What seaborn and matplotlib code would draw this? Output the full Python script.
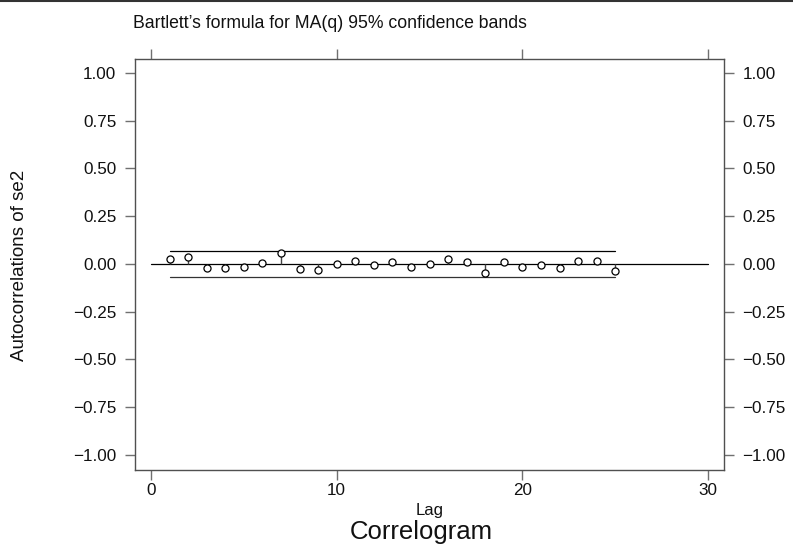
import numpy as np
import pandas as pd
import matplotlib
matplotlib.use("Agg")
import matplotlib.pyplot as plt
import seaborn as sns
from matplotlib.lines import Line2D

lags = list(range(1, 26))
acf = [0.026, 0.038, -0.021, -0.020, -0.018, 0.003, 0.055, -0.025, -0.033, 0.001,
       0.014, -0.005, 0.012, -0.014, 0.000, 0.026, 0.012, -0.049, 0.008, -0.014,
       -0.004, -0.023, 0.016, 0.014, -0.035]
band = [0.069] * 25
yticks = [1.00, 0.75, 0.50, 0.25, 0.00, -0.25, -0.50, -0.75, -1.00]
xticks = [0, 10, 20, 30]

sns.set_theme(style="white")
plt.rcParams['font.family'] = ['Liberation Sans', 'DejaVu Sans']

df = pd.DataFrame({"lag": lags, "acf": acf, "upper": band,
                   "lower": [-b for b in band]})

fig = plt.figure(figsize=(7.93, 5.49), dpi=100)
ax = fig.add_axes([134.7 / 793, 79 / 549, (724 - 134.7) / 793, (470 - 59) / 549])

ink = "#505050"
# zero line
ax.plot([xticks[0], xticks[-1]], [0, 0], color="black", lw=0.9, zorder=2)
# confidence bands
sns.lineplot(data=df, x="lag", y="upper", ax=ax, color="black", lw=0.9, zorder=2)
sns.lineplot(data=df, x="lag", y="lower", ax=ax, color="#333333", lw=0.9, zorder=2)
# stems
ax.vlines(df["lag"], 0, df["acf"], color="#444444", lw=1.0, zorder=3)
# markers
sns.scatterplot(data=df, x="lag", y="acf", ax=ax, s=26, marker="o",
                facecolor="white", edgecolor="black", linewidth=0.9, zorder=4)

ax.set_xlim(-0.88, 30.86)
ax.set_ylim(-1.079, 1.073)
ax.set_xticks(xticks)
ax.set_yticks(yticks)
ax.set_yticklabels([f"{v:.2f}".replace("-", "\u2212") for v in yticks])
ax.set_xticklabels([str(v) for v in xticks])

for s in ax.spines.values():
    s.set_visible(True)
    s.set_color(ink)
    s.set_linewidth(1.0)

ax.tick_params(axis="both", which="both", direction="out", length=7.2,
               width=1.0, color="#707070", labelsize=12.3, labelcolor="#111111",
               pad=6, left=True, right=True, top=True, bottom=True,
               labelleft=True, labelright=True, labeltop=False, labelbottom=True)
ax.tick_params(axis="x", pad=2)

ax.set_xlabel("")
ax.set_ylabel("")
ax.grid(False)

fig.text(20 / 793, 1 - 265 / 549, "Autocorrelations of se2", rotation=90,
         ha="center", va="center", fontsize=13.5, color="#111111")

cx = (134.7 + 724) / 2 / 793
fig.text(cx, 1 - 514.5 / 549, "Lag", ha="center", va="baseline", fontsize=12,
         color="#111111")
fig.text(421 / 793, 1 - 538.5 / 549, "Correlogram", ha="center", va="baseline",
         fontsize=18.5, color="#111111")
fig.text(133 / 793, 1 - 27.7 / 549, "Bartlett\u2019s formula for MA(q) 95% confidence bands",
         ha="left", va="baseline", fontsize=12.7, color="#111111")

fig.add_artist(Line2D([0, 1], [0.999, 0.999], transform=fig.transFigure,
                      color="#333333", lw=1.5))

fig.savefig("out.png", dpi=100)
